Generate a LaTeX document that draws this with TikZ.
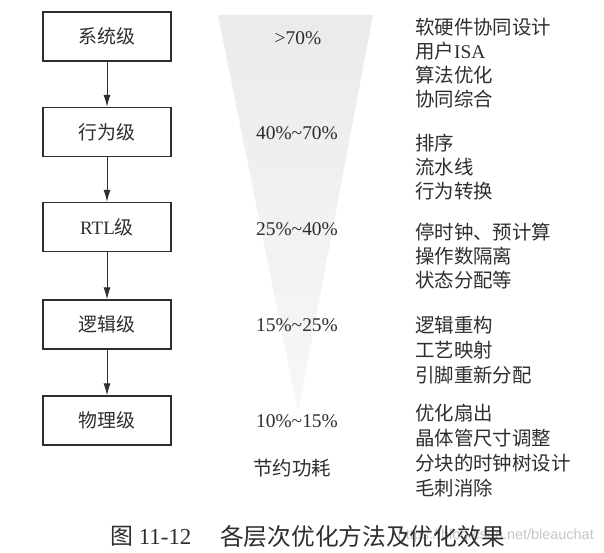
\documentclass[tikz,border=0pt]{standalone}
\usepackage{fontspec}
\setmainfont{Liberation Serif}
\newfontfamily\cjk{Noto Sans CJK SC}
\newfontfamily\wmfont{Liberation Sans}
\usetikzlibrary{arrows.meta}
\definecolor{ink}{gray}{0.18}
\tikzset{
  lvbox/.style={draw=ink, line width=1.3bp, minimum width=128bp, minimum height=49bp, inner sep=0pt, text=ink, font=\fontsize{19}{20}\selectfont\cjk},
  flow/.style={draw=ink, line width=1bp, -{Latex[length=12bp,width=7bp]}},
  pct/.style={text=ink, inner sep=0pt, font=\fontsize{19.5}{20}\selectfont},
  item/.style={text=ink, inner sep=0pt, anchor=west, font=\fontsize{19.5}{20}\selectfont\cjk},
}
\begin{document}
\begin{tikzpicture}[x=1bp,y=-1bp]
\useasboundingbox (0,0) rectangle (604,553);
\fill[white] (0,0) rectangle (604,553);
% funnel
\shade[top color=gray!16, bottom color=gray!6] (218,15) -- (373,15) -- (298,412) -- cycle;
% level boxes
\node[lvbox] (sys) at (107,36.5) {系统级};
\node[lvbox] (beh) at (107,132) {行为级};
\node[lvbox] (rtl) at (107,227) {{\rmfamily RTL}级};
\node[lvbox] (log) at (107,324.5) {逻辑级};
\node[lvbox] (phy) at (107,420.5) {物理级};
\draw[flow] (sys) -- (beh);
\draw[flow] (beh) -- (rtl);
\draw[flow] (rtl) -- (log);
\draw[flow] (log) -- (phy);
% percentages
\node[pct] (p1) at (298,38) {>70\%};
\node[pct] (p2) at (297,133) {40\%\textasciitilde70\%};
\node[pct] (p3) at (297,229) {25\%\textasciitilde40\%};
\node[pct] (p4) at (297,325) {15\%\textasciitilde25\%};
\node[pct] (p5) at (297,421) {10\%\textasciitilde15\%};
\node[pct, font=\fontsize{19.5}{20}\selectfont\cjk] (save) at (292,468) {节约功耗};
% method lists
\node[item] (m1) at (415,27) {软硬件协同设计};
\node[item] (m2) at (415,51) {用户{\rmfamily ISA}};
\node[item] (m3) at (415,75) {算法优化};
\node[item] (m4) at (415,99) {协同综合};
\node[item] (m5) at (415,143) {排序};
\node[item] (m6) at (415,167) {流水线};
\node[item] (m7) at (415,191) {行为转换};
\node[item] (m8) at (415,232) {停时钟、预计算};
\node[item] (m9) at (415,256) {操作数隔离};
\node[item] (m10) at (415,280) {状态分配等};
\node[item] (m11) at (415,325) {逻辑重构};
\node[item] (m12) at (415,350) {工艺映射};
\node[item] (m13) at (415,375) {引脚重新分配};
\node[item] (m14) at (415,413) {优化扇出};
\node[item] (m15) at (415,438) {晶体管尺寸调整};
\node[item] (m16) at (415,463) {分块的时钟树设计};
\node[item] (m17) at (415,488) {毛刺消除};
% caption
\node[text=gray!45, inner sep=0pt, anchor=east, font=\fontsize{14.5}{16}\selectfont\wmfont] (wm) at (594,536) {https://blog.csdn.net/bleauchat};
\node[text=ink, inner sep=0pt, anchor=west, font=\fontsize{23}{24}\selectfont] (cap1) at (110,536) {{\cjk 图} 11-12};
\node[text=ink, inner sep=0pt, anchor=west, font=\fontsize{23.8}{24}\selectfont\cjk] (cap2) at (220,536) {各层次优化方法及优化效果};
\end{tikzpicture}
\end{document}
